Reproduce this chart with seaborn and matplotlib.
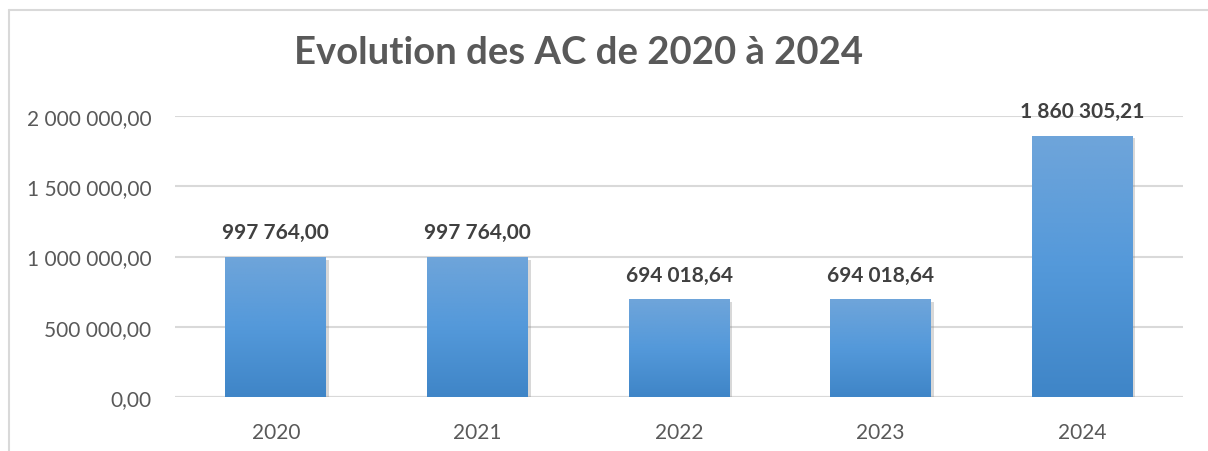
import numpy as np
import matplotlib.pyplot as plt
import matplotlib.patheffects as pe
from matplotlib.lines import Line2D
import seaborn as sns

sns.set_theme(style="white")
plt.rcParams['font.family'] = ['Lato', 'DejaVu Sans']

years = ["2020", "2021", "2022", "2023", "2024"]
values = [997764.00, 997764.00, 694018.64, 694018.64, 1860305.21]
yticks = [0, 500000, 1000000, 1500000, 2000000]


def fr(v):
    # french number format: space thousands, comma decimals
    return f"{v:,.2f}".replace(",", " ").replace(".", ",")


fig = plt.figure(figsize=(12.08, 4.52), dpi=100)
ax = fig.add_axes([175 / 1208, 1 - 398 / 452, 1008 / 1208, 281 / 452])

sns.barplot(x=years, y=values, color="#5B9BD5", width=0.5, ax=ax, zorder=3)

# gradient fill + soft shadow on each bar
grad = np.linspace(0, 1, 256).reshape(-1, 1)
cmap = sns.blend_palette(["#3F85C7", "#5499DA", "#6FA5DA"], as_cmap=True)
for p in ax.patches:
    x0, y0 = p.get_x(), p.get_y()
    w, h = p.get_width(), p.get_height()
    p.set_edgecolor("none")
    p.set_path_effects([pe.SimplePatchShadow(offset=(2, -2), shadow_rgbFace="#808080", alpha=0.3),
                        pe.Normal()])
    im = ax.imshow(grad, extent=[x0, x0 + w, y0, y0 + h], origin="lower", cmap=cmap,
                   aspect="auto", zorder=4)
    im.set_clip_path(p)

ax.set_xlim(-0.5, 4.5)
ax.set_ylim(0, 2000000)
ax.set_yticks(yticks)
ax.set_yticklabels([fr(t) for t in yticks])
ax.yaxis.grid(True, color="#D9D9D9", linewidth=1.5, zorder=0)
ax.set_axisbelow(True)
sns.despine(ax=ax, left=True, top=True, right=True, bottom=True)
ax.axhline(0, color="#D9D9D9", linewidth=1.5, zorder=2)
ax.tick_params(axis="both", length=0, labelsize=15, labelcolor="#595959")
ax.tick_params(axis="y", pad=17)
ax.tick_params(axis="x", pad=18)

for i, v in enumerate(values):
    ax.text(i, v + 105000, fr(v), ha="center", va="bottom", fontsize=15,
            fontweight="bold", color="#404040", zorder=5)

fig.text(578 / 1208, 1 - 53 / 452, "Evolution des AC de 2020 à 2024", ha="center", va="center",
         fontsize=27.5, fontweight="bold", color="#595959")

# chart frame
fig.add_artist(Line2D([9 / 1208, 9 / 1208], [0, 1 - 11 / 452], color="#D9D9D9", linewidth=1.5))
fig.add_artist(Line2D([9 / 1208, 1], [1 - 11 / 452, 1 - 11 / 452], color="#D9D9D9", linewidth=1.5))

fig.savefig("out.png", dpi=100)
